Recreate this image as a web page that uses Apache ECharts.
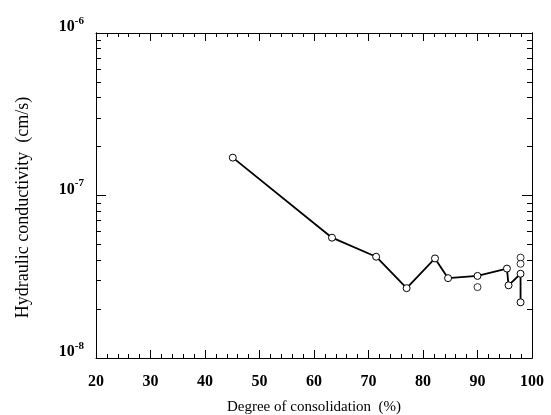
<!DOCTYPE html>
<html>
<head>
<meta charset="utf-8">
<script src="https://cdn.jsdelivr.net/npm/echarts@6/dist/echarts.min.js"></script>
<style>
  html, body { margin: 0; padding: 0; background: #fff; }
  #chart { width: 551px; height: 415px; }
</style>
</head>
<body>
<div id="chart"></div>
<script>
// connected measurements (in drawing order)
const degree = [45.1, 63.3, 71.4, 77.0, 82.2, 84.6, 90.0, 95.4, 95.7, 97.9, 97.9];
const conductivity = [1.71e-7, 5.5e-8, 4.2e-8, 2.69e-8, 4.1e-8, 3.1e-8, 3.2e-8, 3.55e-8, 2.8e-8, 3.3e-8, 2.2e-8];
// loose markers near the end of the test
const extraDegree = [90.0, 97.9, 97.9];
const extraConductivity = [2.73e-8, 4.15e-8, 3.8e-8];

const xTicks = [20, 30, 40, 50, 60, 70, 80, 90, 100];
const yMajorTicks = [1e-8, 1e-7, 1e-6];
const yMinorTicks = [2e-8, 3e-8, 4e-8, 5e-8, 6e-8, 7e-8, 8e-8, 9e-8,
                     2e-7, 3e-7, 4e-7, 5e-7, 6e-7, 7e-7, 8e-7, 9e-7];

const serif = '"Liberation Serif", "DejaVu Serif", serif';

const chart = echarts.init(document.getElementById('chart'));

const lineData = degree.map((d, i) => [d, conductivity[i]]);
const extraData = extraDegree.map((d, i) => [d, extraConductivity[i]]);

const tickStyle = { color: '#000', width: 1 };
const markerStyle = { color: '#fff', borderColor: '#000', borderWidth: 1 };

const xAxisBase = (pos) => ({
    type: 'value',
    position: pos,
    min: xTicks[0],
    max: xTicks[xTicks.length - 1],
    interval: 10,
    axisLine: { lineStyle: { color: '#000', width: 1 } },
    axisTick: { inside: true, length: 8, lineStyle: tickStyle },
    minorTick: { show: true, splitNumber: 5, length: 4, lineStyle: tickStyle },
    splitLine: { show: false }
});

const yAxisBase = (pos, ticks, len) => ({
    type: 'log',
    logBase: 10,
    position: pos,
    min: yMajorTicks[0],
    max: yMajorTicks[yMajorTicks.length - 1],
    axisLine: { lineStyle: { color: '#000', width: 1 } },
    axisTick: { inside: true, length: len, lineStyle: tickStyle, customValues: ticks },
    axisLabel: { show: false },
    splitLine: { show: false }
});

const yLeft = yAxisBase('left', yMajorTicks, 10);
yLeft.name = 'Hydraulic conductivity  (cm/s)';
yLeft.nameLocation = 'middle';
yLeft.nameGap = 64;
yLeft.nameTextStyle = { fontFamily: serif, fontSize: 18, color: '#000', padding: [0, 24, 0, 0] };
yLeft.axisLabel = {
    show: true,
    margin: 12,
    customValues: yMajorTicks,
    formatter: v => '{b|10}{s|' + Math.round(Math.log10(v)) + '}',
    rich: {
        b: { fontFamily: serif, fontSize: 16, fontWeight: 'bold', color: '#000', padding: [0, 0, 12, 0] },
        s: { fontFamily: serif, fontSize: 11, fontWeight: 'bold', color: '#000', padding: [0, 0, 24, 0] }
    }
};

const xBottom = xAxisBase('bottom');
xBottom.name = 'Degree of consolidation  (%)';
xBottom.nameLocation = 'middle';
xBottom.nameGap = 42;
xBottom.nameTextStyle = { fontFamily: serif, fontSize: 15, color: '#000' };
xBottom.axisLabel = { fontFamily: serif, fontSize: 16, fontWeight: 'bold', color: '#000', margin: 16 };

const xTop = xAxisBase('top');
xTop.axisLabel = { show: false };

chart.setOption({
    animation: false,
    backgroundColor: '#fff',
    grid: { left: 96, right: 19, top: 33, bottom: 57, outerBoundsMode: 'none', containLabel: false },
    xAxis: [xBottom, xTop],
    yAxis: [
        yLeft,
        yAxisBase('right', yMajorTicks, 10),
        yAxisBase('left', yMinorTicks, 5),
        yAxisBase('right', yMinorTicks, 5)
    ],
    series: [
        {
            type: 'line',
            data: lineData,
            symbol: 'circle',
            symbolSize: 7,
            lineStyle: { color: '#000', width: 1.8 },
            itemStyle: markerStyle,
            z: 3
        },
        {
            type: 'scatter',
            data: extraData,
            symbol: 'circle',
            symbolSize: 7,
            itemStyle: markerStyle,
            z: 4
        }
    ]
});

window.addEventListener('resize', () => chart.resize());
</script>
</body>
</html>
